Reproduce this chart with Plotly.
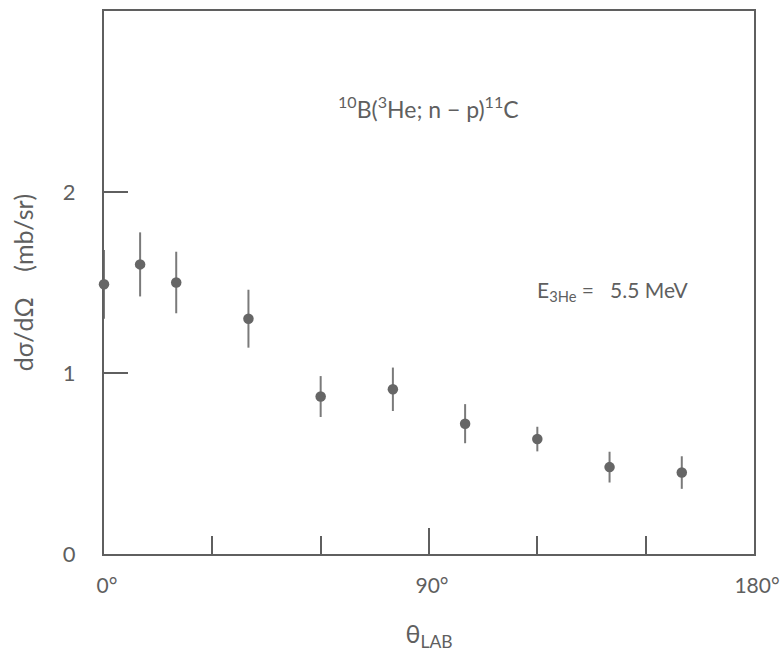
import plotly.graph_objects as go

# Lab angle (degrees) and differential cross section (mb/sr)
theta_lab = [0, 10, 20, 40, 60, 80, 100, 120, 140, 160]
dsigma = [1.49, 1.60, 1.50, 1.30, 0.87, 0.91, 0.72, 0.635, 0.48, 0.45]
dsigma_err = [0.19, 0.177, 0.17, 0.16, 0.113, 0.12, 0.108, 0.068, 0.085, 0.09]

x_ticks = [0, 90, 180]
x_tick_text = ["0°", "90°", "180°"]
y_ticks = [0, 1, 2]

ink = "#5f5f5f"
font_family = "Lato, 'Open Sans', sans-serif"

fig = go.Figure()

# white knock-out behind each error bar so the frame line breaks around it
fig.add_trace(go.Scatter(
    x=theta_lab, y=dsigma, mode="markers",
    marker=dict(size=1, color="rgba(255,255,255,0)"),
    error_y=dict(type="data", array=[e + 0.07 for e in dsigma_err],
                 color="white", thickness=6, width=0),
    cliponaxis=False, hoverinfo="skip", showlegend=False,
))

fig.add_trace(go.Scatter(
    x=theta_lab, y=dsigma, mode="markers",
    marker=dict(size=10.5, color="#666666", line=dict(width=0)),
    error_y=dict(type="data", array=dsigma_err, color="#7a7a7a",
                 thickness=2, width=0),
    cliponaxis=False, showlegend=False,
))

fig.update_layout(
    width=780, height=652,
    margin=dict(l=104, r=26, t=11, b=98),
    paper_bgcolor="white", plot_bgcolor="white",
    font=dict(family=font_family, color=ink, size=20),
    xaxis=dict(
        range=[0, 180], tickmode="array", tickvals=x_ticks, ticktext=x_tick_text,
        ticks="inside", ticklen=26, tickwidth=1.5, tickcolor=ink,
        minor=dict(dtick=30, tick0=0, ticks="inside", ticklen=18,
                   tickwidth=1.5, tickcolor=ink, showgrid=False),
        showline=True, linecolor=ink, linewidth=2, mirror=True,
        showgrid=False, zeroline=False, layer="below traces",
        automargin=False, ticklabeloverflow="allow",
        tickfont=dict(size=21), ticklabelstandoff=12, ticklabelshift=3,
        title=dict(text="θ<sub>LAB</sub>", font=dict(size=25), standoff=42),
    ),
    yaxis=dict(
        range=[0, 3], tickmode="array", tickvals=y_ticks,
        ticks="inside", ticklen=24, tickwidth=1.5, tickcolor=ink,
        showline=True, linecolor=ink, linewidth=2, mirror=True,
        showgrid=False, zeroline=False, layer="below traces",
        automargin=False, ticklabeloverflow="allow",
        tickfont=dict(size=22), ticklabelstandoff=22,
        title=dict(text="dσ/dΩ\u00a0\u00a0\u00a0\u00a0(mb/sr)", font=dict(size=25),
                   standoff=22),
    ),
    annotations=[
        dict(text="<sup>10</sup>B(<sup>3</sup>He; n − p)<sup>11</sup>C",
             xref="paper", yref="paper", x=0.499, y=0.822,
             xanchor="center", yanchor="middle", showarrow=False,
             font=dict(size=23, color=ink)),
        dict(text="E<sub>3He</sub> =\u00a0\u00a0\u00a05.5 MeV",
             xref="paper", yref="paper", x=0.663, y=0.485,
             xanchor="left", yanchor="middle", showarrow=False,
             font=dict(size=21, color=ink)),
    ],
)

fig.write_html("out.html")
